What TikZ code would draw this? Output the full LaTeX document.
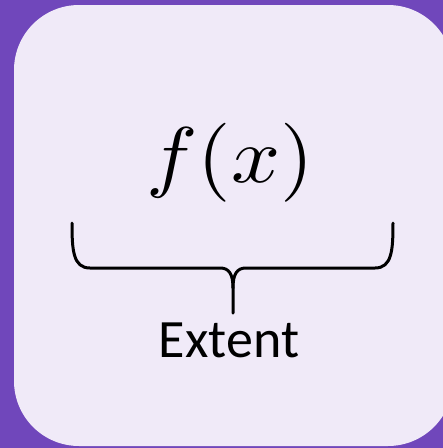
\documentclass[tikz,border=0pt]{standalone}
\usepackage{graphicx}
\usepackage{fontspec}
\newfontfamily\labelfont{Carlito}
\usetikzlibrary{positioning, calc}
\definecolor{bgpurple}{RGB}{112,71,187}
\definecolor{cardlav}{RGB}{240,234,248}

\begin{document}
\begin{tikzpicture}[x=1pt, y=-1pt,
    card/.style={fill=cardlav, draw=none, rounded corners=65pt},
    bracestroke/.style={draw=black, line width=3pt, line cap=round, line join=round},
    funclabel/.style={anchor=base, inner sep=0pt},
    extlabel/.style={anchor=base, inner sep=0pt, font=\labelfont\fontsize{54}{60}\selectfont}]
      \useasboundingbox (0,0) rectangle (443,448);
      \fill[bgpurple] (0,0) rectangle (443,448);
      \begin{scope}
        \clip (0,0) rectangle (443,448);
        \path[card] (14,5) rectangle (453,446);
      \end{scope}
      \node[funclabel] (func) at (230,182) {\scalebox{8.6}[7.9]{$f(x)$}};
      \coordinate (bl) at (72,223);
      \coordinate (br) at (393,223);
      \coordinate (bm) at (233,313);
      \coordinate (cusp) at (233,288);
      \draw[bracestroke] (bl) .. controls (72,250) and (73,268) .. (90,268) -- (220,268)
        .. controls (229,268) and (233,274) .. (cusp) -- (bm);
      \draw[bracestroke] (br) .. controls (393,250) and (392,268) .. (375,268) -- (246,268)
        .. controls (237,268) and (233,274) .. (cusp);
      \node[extlabel] (extent) at (229,357) {Extent};
    \end{tikzpicture}
\end{document}
